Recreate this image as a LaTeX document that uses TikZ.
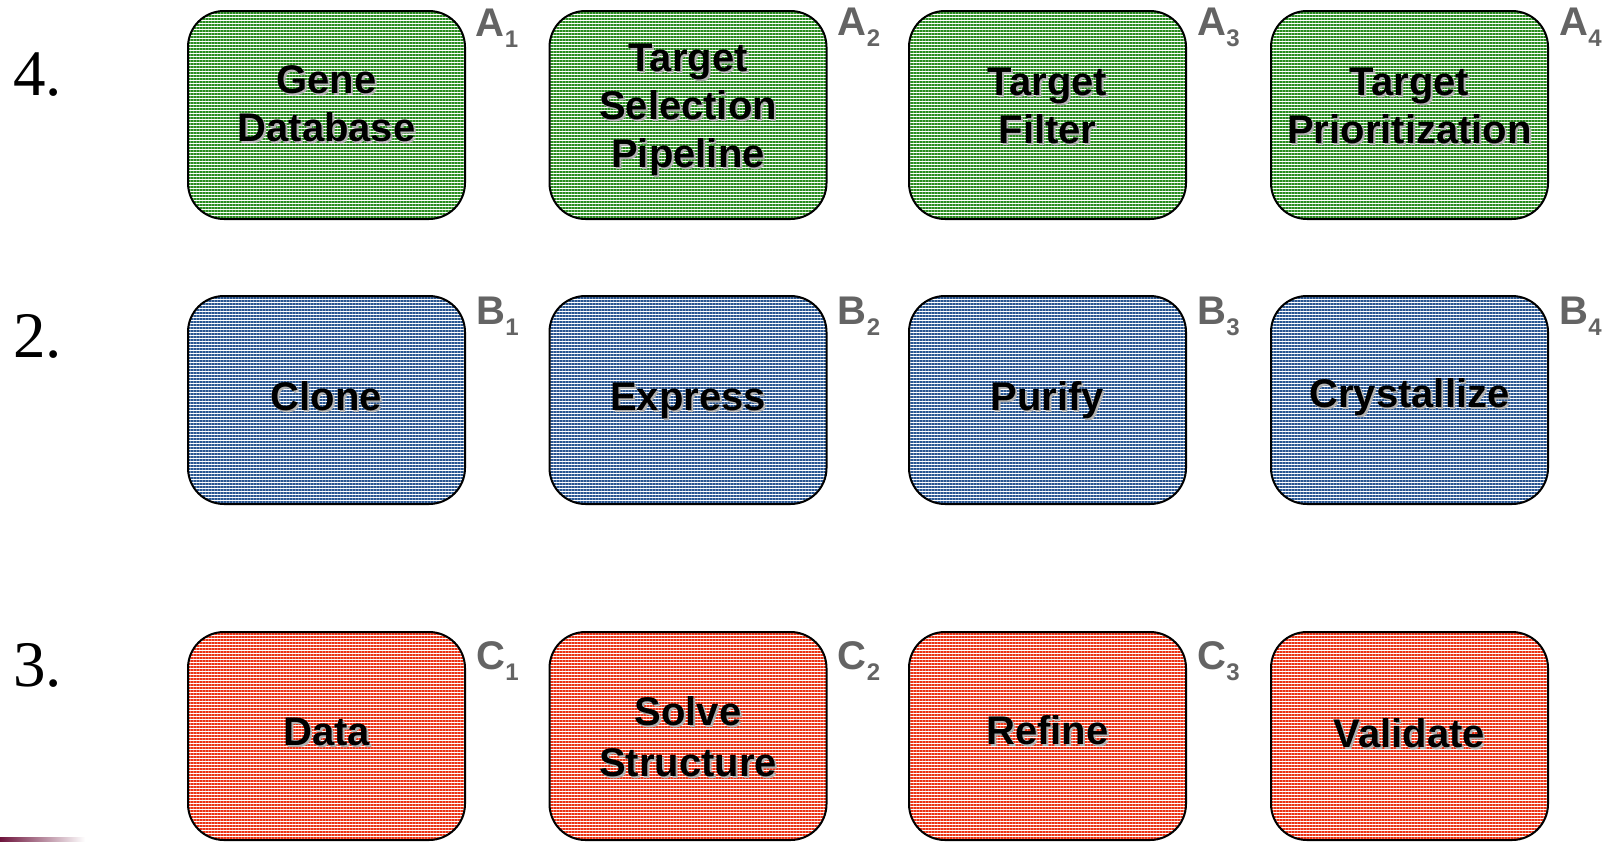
\documentclass[tikz,border=0pt]{standalone}
\usepackage{fontspec}
\setmainfont{Liberation Sans}
\newfontfamily\numfont{Liberation Serif}
\usetikzlibrary{patterns.meta}
\definecolor{geneline}{RGB}{40,140,30}
\definecolor{labline}{RGB}{40,85,145}
\definecolor{xtalline}{RGB}{235,50,20}
\definecolor{taggray}{RGB}{100,100,100}
\definecolor{smear}{RGB}{110,20,60}
% text with a soft drop shadow
\newcommand{\shd}[1]{\rlap{\kern1pt\raisebox{-1pt}{\color{black!30}#1}}#1}
% corner tag with subscript
\newcommand{\tagsub}[2]{#1\raisebox{-5.5pt}{\fontsize{12}{12}\selectfont #2}}

\begin{document}
\begin{tikzpicture}[x=0.5pt,y=-0.5pt,
    stage/.style={draw=black,line width=1pt,rounded corners=18pt,
      minimum width=138.5pt,minimum height=104pt,
      pattern={Lines[angle=0,distance=1.5pt,line width=0.55pt]},pattern color=#1},
    txt/.style={font=\fontsize{20}{24}\selectfont\bfseries,align=center,inner sep=0pt},
    tag/.style={font=\fontsize{20}{24}\selectfont\bfseries,text=taggray,anchor=north west,inner sep=0pt},
    num/.style={font=\numfont\fontsize{32.5}{36}\selectfont,anchor=base west,inner sep=0pt}]
    \useasboundingbox (0,0) rectangle (1611,841);
    % step numbers
    \node[num] (n4) at (13,95) {4.};
    \node[num] (n2) at (13,357) {2.};
    \node[num] (n3) at (13,686) {3.};
    % row A: target selection
    \node[stage=geneline] (a1) at (326.5,115) {};
    \node[stage=geneline] (a2) at (688,115) {};
    \node[stage=geneline] (a3) at (1047.5,115) {};
    \node[stage=geneline] (a4) at (1409.5,115) {};
    \node[txt] (a1t) at ([yshift=5pt]a1.center) {\shd{Gene}\\\shd{Database}};
    \node[txt] (a2t) at ([yshift=2pt]a2.center) {\shd{Target}\\\shd{Selection}\\\shd{Pipeline}};
    \node[txt] (a3t) at ([yshift=4pt]a3.center) {\shd{Target}\\\shd{Filter}};
    \node[txt] (a4t) at ([yshift=4pt]a4.center) {\shd{Target}\\\shd{Prioritization}};
    \node[tag] (a1g) at ([xshift=5pt,yshift=1pt]a1.north east) {\tagsub{A}{1}};
    \node[tag] (a2g) at ([xshift=5pt,yshift=1pt]a2.north east) {\tagsub{A}{2}};
    \node[tag] (a3g) at ([xshift=5pt,yshift=1pt]a3.north east) {\tagsub{A}{3}};
    \node[tag] (a4g) at ([xshift=5pt,yshift=1pt]a4.north east) {\tagsub{A}{4}};
    % row B: protein production
    \node[stage=labline] (b1) at (326.5,400) {};
    \node[stage=labline] (b2) at (688,400) {};
    \node[stage=labline] (b3) at (1047.5,400) {};
    \node[stage=labline] (b4) at (1409.5,400) {};
    \node[txt] (b1t) at ([yshift=1.5pt]b1.center) {\shd{Clone}};
    \node[txt] (b2t) at ([yshift=-1pt]b2.center) {\shd{Express}};
    \node[txt] (b3t) at ([yshift=-0.5pt]b3.center) {\shd{Purify}};
    \node[txt] (b4t) at ([yshift=1pt]b4.center) {\shd{Crystallize}};
    \node[tag] (b1g) at ([xshift=5pt,yshift=-1pt]b1.north east) {\tagsub{B}{1}};
    \node[tag] (b2g) at ([xshift=5pt,yshift=-1pt]b2.north east) {\tagsub{B}{2}};
    \node[tag] (b3g) at ([xshift=5pt,yshift=-1pt]b3.north east) {\tagsub{B}{3}};
    \node[tag] (b4g) at ([xshift=5pt,yshift=-1pt]b4.north east) {\tagsub{B}{4}};
    % row C: structure
    \node[stage=xtalline] (c1) at (326.5,736) {};
    \node[stage=xtalline] (c2) at (688,736) {};
    \node[stage=xtalline] (c3) at (1047.5,736) {};
    \node[stage=xtalline] (c4) at (1409.5,736) {};
    \node[txt] (c1t) at ([yshift=1.5pt]c1.center) {\shd{Data}};
    \node[txt,font=\fontsize{20}{25.5}\selectfont\bfseries] (c2t) at ([yshift=-1pt]c2.center) {\shd{Solve}\\\shd{Structure}};
    \node[txt] (c3t) at ([yshift=2.5pt]c3.center) {\shd{Refine}};
    \node[txt] (c4t) at ([yshift=1pt]c4.center) {\shd{Validate}};
    \node[tag] (c1g) at ([xshift=5pt,yshift=-5pt]c1.north east) {\tagsub{C}{1}};
    \node[tag] (c2g) at ([xshift=5pt,yshift=-5pt]c2.north east) {\tagsub{C}{2}};
    \node[tag] (c3g) at ([xshift=5pt,yshift=-5pt]c3.north east) {\tagsub{C}{3}};
    % smudge at the lower left edge
    \shade[left color=smear,right color=white] (0,837) rectangle (85,841);
\end{tikzpicture}
\end{document}
